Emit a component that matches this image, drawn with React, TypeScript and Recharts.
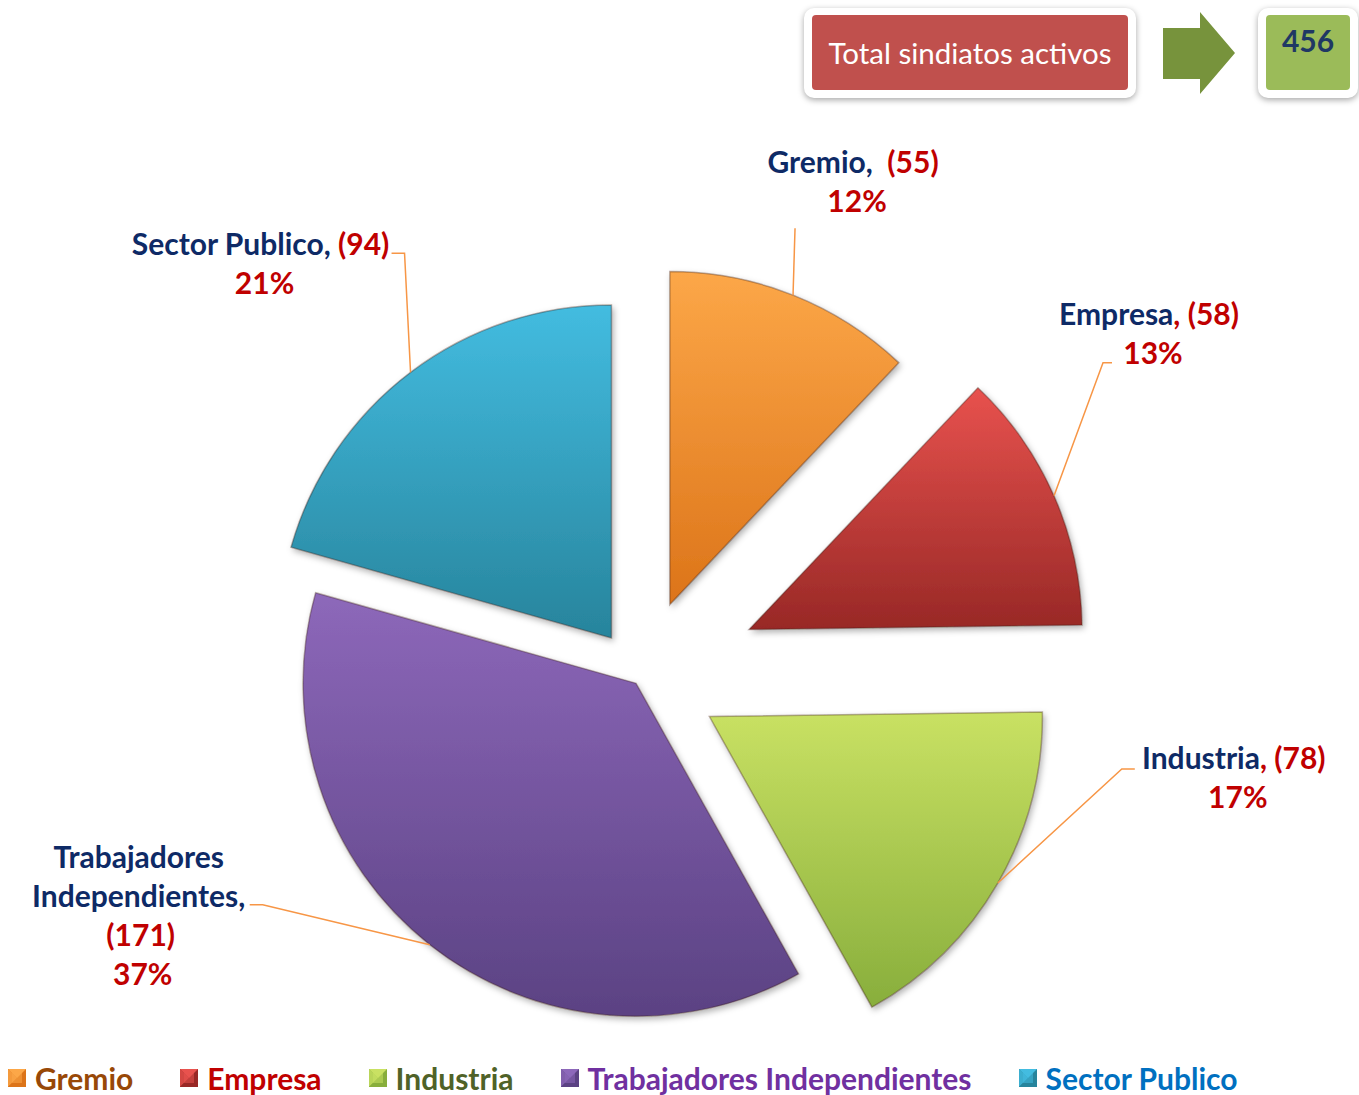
import { PieChart, Pie, Cell, Sector, Legend } from "recharts"

const categories = ["Gremio", "Empresa", "Industria", "Trabajadores Independientes", "Sector Publico"]
const sindicatos = [55, 58, 78, 171, 94]
const percentLabels = ["12%", "13%", "17%", "37%", "21%"]
const totalActivos = 456

const data = categories.map((name, i) => ({ name, value: sindicatos[i] }))

// styling
const sliceColors = [
  { top: "#fca748", bottom: "#dc7419", legend: "#984807" },
  { top: "#e8524e", bottom: "#982826", legend: "#c00000" },
  { top: "#c9e163", bottom: "#88ae3c", legend: "#4f6228" },
  { top: "#8d68ba", bottom: "#5b4283", legend: "#7030a0" },
  { top: "#43bce0", bottom: "#27849c", legend: "#0070c0" },
]
const explode = [78, 118, 79, 8, 49]
const NAVY = "#0e2a66"
const RED = "#c00000"
const FONT = "Lato, 'Open Sans', sans-serif"
const RADIAN = Math.PI / 180

// label placement relative to the outer-arc midpoint of each exploded slice
const labelLayout = [
  { elbow: [2, -67], tail: null, text: [60, -122] },
  { elbow: [49, -133], tail: [58, -133], text: [95, -171] },
  { elbow: [124, -114], tail: [137, -114], text: [236, -114] },
  { elbow: [-167, -40], tail: [-180, -40], text: [-291, -77] },
  { elbow: [-6, -119], tail: [-19, -119], text: [-150, -117] },
]

type Seg = { t: string; c: string }

function labelLines(i: number): Seg[][] {
  const name = categories[i]
  const val = `(${sindicatos[i]})`
  const pct = percentLabels[i]
  if (i === 3) {
    const [a, b] = name.split(" ")
    return [[{ t: a, c: NAVY }], [{ t: b + ",", c: NAVY }], [{ t: val, c: RED }], [{ t: pct, c: RED }]]
  }
  if (i === 0) return [[{ t: name + ",", c: NAVY }, { t: "\u00a0\u00a0" + val, c: RED }], [{ t: pct, c: RED }]]
  if (i === 4) return [[{ t: name + ",", c: NAVY }, { t: " " + val, c: RED }], [{ t: pct, c: RED }]]
  return [[{ t: name, c: NAVY }, { t: ", " + val, c: RED }], [{ t: pct, c: RED }]]
}

const sliceIndex = (p: any) => categories.indexOf(p.name ?? p.payload?.name)

const ExplodedSector = (props: any) => {
  const i = sliceIndex(props)
  const off = explode[i] ?? 0
  const a = -props.midAngle * RADIAN
  return (
    <Sector
      cx={props.cx + off * Math.cos(a)}
      cy={props.cy + off * Math.sin(a)}
      innerRadius={props.innerRadius}
      outerRadius={props.outerRadius}
      startAngle={props.startAngle}
      endAngle={props.endAngle}
      fill={props.fill}
      stroke="rgba(60,30,20,0.35)"
      strokeWidth={1.5}
      filter="url(#sliceShadow)"
    />
  )
}

const renderLabel = (props: any) => {
  const i = props.index ?? sliceIndex(props)
  const off = explode[i] ?? 0
  const a = -props.midAngle * RADIAN
  const mx = props.cx + (off + props.outerRadius) * Math.cos(a)
  const my = props.cy + (off + props.outerRadius) * Math.sin(a)
  const L = labelLayout[i]
  const pts = [[mx, my], [mx + L.elbow[0], my + L.elbow[1]]]
  if (L.tail) pts.push([mx + L.tail[0], my + L.tail[1]])
  const lines = labelLines(i)
  const tx = mx + L.text[0]
  const ty = my + L.text[1]
  return (
    <g key={`lbl-${i}`}>
      <polyline points={pts.map((p) => p.join(",")).join(" ")} fill="none" stroke="#f79646" strokeWidth={1.5} />
      {lines.map((segs, j) => {
        // percentage line sits a little right of the name line
        const dx = j === lines.length - 1 ? 4 : j === 2 ? 2 : 0
        return (
          <text key={j} x={tx + dx} y={ty + j * 39} textAnchor="middle" fontFamily={FONT} fontWeight={700} fontSize={30}>
            {segs.map((s, k) => (
              <tspan key={k} fill={s.c}>{s.t}</tspan>
            ))}
          </text>
        )
      })}
    </g>
  )
}

const LegendIcon = ({ i }: { i: number }) => {
  const c = sliceColors[i]
  return (
    <svg width={18} height={18} style={{ marginRight: 9, flex: "none" }}>
      <rect x={0} y={0} width={18} height={18} fill={c.bottom} />
      <polygon points="0,0 18,0 9,9" fill={c.top} />
      <polygon points="0,0 9,9 0,18" fill={c.top} opacity={0.75} />
      <polygon points="0,18 9,9 18,18" fill={c.bottom} />
      <rect x={4} y={4} width={10} height={10} fill={c.top} opacity={0.55} />
    </svg>
  )
}

const renderLegend = () => (
  <div style={{ display: "flex", alignItems: "center", gap: 47, fontFamily: FONT, fontWeight: 700, fontSize: 30 }}>
    {categories.map((name, i) => (
      <div key={name} style={{ display: "flex", alignItems: "center", color: sliceColors[i].legend }}>
        <LegendIcon i={i} />
        <span>{name}</span>
      </div>
    ))}
  </div>
)

export default function App() {
  return (
    <div style={{ position: "absolute", left: 0, top: 0, width: 1359, height: 1095, background: "#fff", overflow: "hidden" }}>
      <PieChart width={1359} height={1095} margin={{ top: 0, right: 0, bottom: 0, left: 0 }} style={{ position: "absolute", left: 0, top: 0 }}>
        <defs>
          {sliceColors.map((c, i) => (
            <linearGradient key={i} id={`grad${i}`} x1="0" y1="0" x2="0" y2="1">
              <stop offset="0%" stopColor={c.top} />
              <stop offset="100%" stopColor={c.bottom} />
            </linearGradient>
          ))}
          <filter id="sliceShadow" x="-20%" y="-20%" width="140%" height="140%">
            <feDropShadow dx="2" dy="3" stdDeviation="3" floodColor="#000" floodOpacity="0.3" />
          </filter>
        </defs>
        <Pie
          data={data}
          dataKey="value"
          nameKey="name"
          cx={641}
          cy={677}
          outerRadius={333}
          startAngle={90}
          endAngle={-270}
          stroke="none"
          shape={ExplodedSector}
          label={renderLabel}
          labelLine={false}
          isAnimationActive={false}
        >
          {data.map((d, i) => (
            <Cell key={d.name} fill={`url(#grad${i})`} />
          ))}
        </Pie>
        <Legend content={renderLegend} wrapperStyle={{ position: "absolute", left: 8, top: 1060, width: 1340 }} />
      </PieChart>

      {/* total box */}
      <div style={{ position: "absolute", left: 804, top: 8, width: 332, height: 90, background: "#fff", borderRadius: 10, boxShadow: "0 2px 6px rgba(0,0,0,0.35)" }}>
        <div style={{ position: "absolute", left: 8, top: 7, width: 316, height: 75, background: "#c0504d", borderRadius: 4, display: "flex", alignItems: "center", justifyContent: "center", color: "#fff", fontFamily: FONT, fontSize: 29.5 }}>
          Total sindiatos activos
        </div>
      </div>
      <svg style={{ position: "absolute", left: 0, top: 0 }} width={1359} height={110}>
        <polygon points="1163,28 1200,28 1200,12 1235,53 1200,94 1200,79 1163,79" fill="#77933c" />
      </svg>
      <div style={{ position: "absolute", left: 1258, top: 8, width: 100, height: 90, background: "#fff", borderRadius: 10, boxShadow: "0 2px 6px rgba(0,0,0,0.35)" }}>
        <div style={{ position: "absolute", left: 8, top: 7, width: 84, height: 75, background: "#9bbb59", borderRadius: 4, textAlign: "center", color: "#1f3864", fontFamily: FONT, fontWeight: 700, fontSize: 30, lineHeight: "50px" }}>
          {totalActivos}
        </div>
      </div>
    </div>
  )
}
